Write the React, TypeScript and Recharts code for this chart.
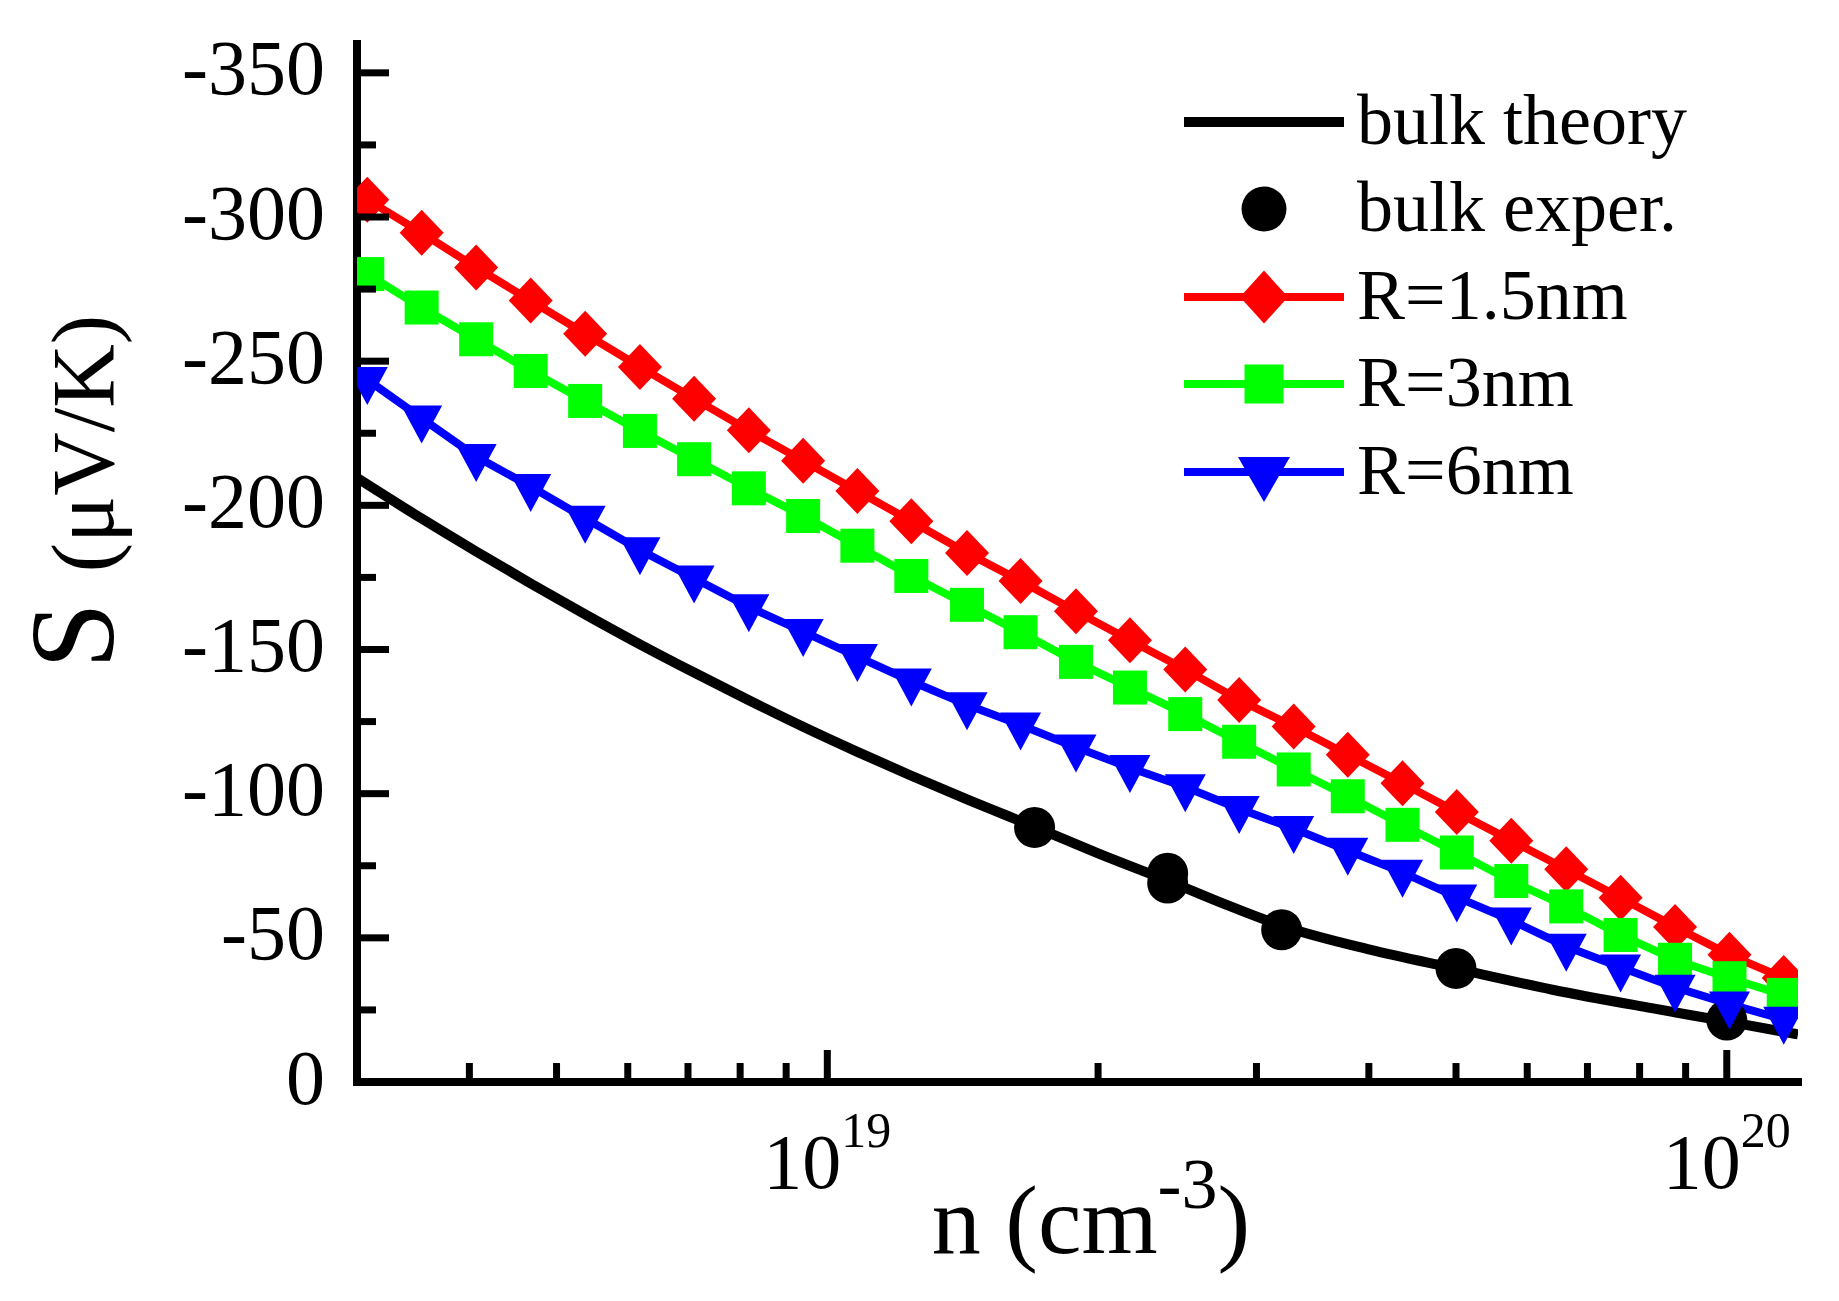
import React from 'react';
import { ComposedChart, Line, XAxis, YAxis, Legend } from 'recharts';

const FONT = "'Liberation Serif', 'Times New Roman', serif";

// carrier concentration grid of the nanowire curves (cm^-3)
const wireN = [
  3.08e18, 3.54e18, 4.07e18, 4.68e18, 5.38e18, 6.19e18, 7.11e18, 8.18e18, 9.4e18,
  1.08e19, 1.24e19, 1.43e19, 1.64e19, 1.89e19, 2.17e19, 2.5e19, 2.87e19, 3.3e19,
  3.79e19, 4.36e19, 5.01e19, 5.76e19, 6.63e19, 7.62e19, 8.76e19, 1.007e20, 1.157e20,
];
// Seebeck coefficient (uV/K)
const wireR15 = [
  -306, -294.5, -282.5, -271, -259.5, -248, -237, -226, -215.5, -205, -194.5, -183.5,
  -173.8, -163.3, -153.2, -143.1, -132.5, -123.3, -113.5, -103.6, -93.6, -83.7, -73.8,
  -63.9, -53.8, -44.1, -36.1,
];
const wireR3 = [
  -280.2, -268.6, -257.6, -246.6, -236.2, -225.8, -216, -205.9, -196.3, -186, -175.5,
  -165.5, -156, -145.7, -136.8, -127.6, -118, -108.4, -99.1, -89.2, -79.6, -69.7, -60.9,
  -51, -42.4, -36, -30.2,
];
const wireR6 = [
  -243.6, -230.2, -216.9, -206.5, -195.5, -184.5, -174.7, -164.8, -156.2, -147.5, -139,
  -130.8, -123.8, -116.1, -109, -102.3, -94.8, -87.9, -80.3, -72.7, -64.1, -56.1, -47,
  -39.8, -32.8, -27, -21.7,
];
const bulkTheoryN = [
  3.0e18, 3.54e18, 4.07e18, 4.68e18, 5.38e18, 6.19e18, 7.11e18, 8.18e18, 9.4e18, 1.08e19,
  1.24e19, 1.43e19, 1.7e19, 2.0e19, 2.4e19, 2.77e19, 3.2e19, 4.0e19, 5.0e19, 6.4e19,
  8.25e19, 1.0e20, 1.2e20,
];
const bulkTheoryS = [
  -209.5, -195.4, -184.0, -172.9, -162.2, -151.8, -142.0, -132.4, -123.2, -114.5, -106.2,
  -98.0, -88.5, -79.3, -69.6, -61.6, -54.2, -46.0, -39.3, -32.0, -25.6, -21.0, -16.5,
];
const bulkExperN = [1.7e19, 2.39e19, 2.39e19, 3.2e19, 5.0e19, 1.0e20];
const bulkExperS = [-88.3, -72.4, -69.0, -52.8, -39.4, -21.5];

const xTicks = [
  4e18, 5e18, 6e18, 7e18, 8e18, 9e18, 1e19, 2e19, 3e19, 4e19, 5e19, 6e19, 7e19, 8e19, 9e19, 1e20,
];
const yTicks = [0, -25, -50, -75, -100, -125, -150, -175, -200, -225, -250, -275, -300, -325, -350];

const legendLabels = ['bulk theory', 'bulk exper.', 'R=1.5nm', 'R=3nm', 'R=6nm'];

const rows = (ns: number[], ss: number[]) => ns.map((n, i) => ({ n, s: ss[i] }));

const RED = '#ff0000';
const GREEN = '#00ff00';
const BLUE = '#0000ff';
const BLACK = '#000000';

const isMajorX = (v: number) => {
  const e = Math.log10(v);
  return Math.abs(e - Math.round(e)) < 1e-9;
};

const TICK_W = 7;
const MAJ = 32;
const MIN = 19;

const BottomTick = (p: any) => {
  const { x, y, payload } = p;
  const v = payload.value;
  const major = isMajorX(v);
  return (
    <g>
      <line x1={x} y1={y} x2={x} y2={y - (major ? MAJ : MIN)} stroke={BLACK} strokeWidth={TICK_W} />
      {major && (
        <text x={x} y={y + 106} textAnchor="middle" fontFamily={FONT} fontSize={78} fill={BLACK}>
          <tspan>10</tspan>
          <tspan dy={-41} fontSize={50}>{String(Math.round(Math.log10(v)))}</tspan>
        </text>
      )}
    </g>
  );
};

const TopTick = (p: any) => {
  const { x, y, payload } = p;
  const major = isMajorX(payload.value);
  return <line x1={x} y1={y} x2={x} y2={y + (major ? MAJ : MIN)} stroke={BLACK} strokeWidth={TICK_W} />;
};

const LeftTick = (p: any) => {
  const { x, y, payload } = p;
  const v = payload.value;
  const major = v % 50 === 0;
  return (
    <g>
      <line x1={x} y1={y} x2={x + (major ? MAJ : MIN)} y2={y} stroke={BLACK} strokeWidth={TICK_W} />
      {major && (
        <text x={x - 32} y={y + 21.5} textAnchor="end" fontFamily={FONT} fontSize={78} fill={BLACK}>
          {String(v)}
        </text>
      )}
    </g>
  );
};

const RightTick = (p: any) => {
  const { x, y, payload } = p;
  const major = payload.value % 50 === 0;
  return <line x1={x} y1={y} x2={x - (major ? MAJ - 3 : MIN)} y2={y} stroke={BLACK} strokeWidth={TICK_W} />;
};

const XTitle = () => (
  <text x={1091} y={1253} textAnchor="middle" fontFamily={FONT} fontSize={98} fill={BLACK}>
    n (cm
    <tspan dy={-45} fontSize={72}>-3</tspan>
    <tspan dy={45}>)</tspan>
  </text>
);

const YTitle = () => (
  <text
    x={113}
    y={492}
    transform="rotate(-90 113 492)"
    textAnchor="middle"
    fontFamily={FONT}
    fill={BLACK}
  >
    <tspan fontSize={120}>S </tspan>
    <tspan fontSize={88}>(μV/K)</tspan>
  </text>
);

const diamondPts = (cx: number, cy: number, w: number, h: number) =>
  `${cx},${cy - h / 2} ${cx + w / 2},${cy} ${cx},${cy + h / 2} ${cx - w / 2},${cy}`;
const triPts = (cx: number, cy: number, w: number, h: number) =>
  `${cx - w / 2},${cy - h / 3} ${cx + w / 2},${cy - h / 3} ${cx},${cy + (2 * h) / 3}`;

const diamondDot = (p: any) =>
  p.cx == null ? <g key={`rd${p.index}`} /> : (
    <polygon key={`rd${p.index}`} points={diamondPts(p.cx, p.cy, 44, 46)} fill={RED} />
  );
const squareDot = (p: any) =>
  p.cx == null ? <g key={`gs${p.index}`} /> : (
    <rect key={`gs${p.index}`} x={p.cx - 17} y={p.cy - 17} width={34} height={34} fill={GREEN} />
  );
const triDot = (p: any) =>
  p.cx == null ? <g key={`bt${p.index}`} /> : (
    <polygon key={`bt${p.index}`} points={triPts(p.cx, p.cy, 41, 38)} fill={BLUE} />
  );
const circleDot = (p: any) =>
  p.cx == null ? <g key={`kc${p.index}`} /> : (
    <circle key={`kc${p.index}`} cx={p.cx} cy={p.cy} r={20.5} fill={BLACK} />
  );

const LegendBox = () => {
  const rowsY = [62, 149, 237, 324, 412];
  const lx1 = 24;
  const lx2 = 184;
  const mx = 104;
  return (
    <svg width={640} height={470} style={{ display: 'block' }}>
      <line x1={lx1} y1={rowsY[0]} x2={lx2} y2={rowsY[0]} stroke={BLACK} strokeWidth={10} />
      <circle cx={mx} cy={rowsY[1]} r={22.5} fill={BLACK} />
      <line x1={lx1} y1={rowsY[2]} x2={lx2} y2={rowsY[2]} stroke={RED} strokeWidth={8} />
      <polygon points={diamondPts(mx, rowsY[2], 48, 53)} fill={RED} />
      <line x1={lx1} y1={rowsY[3]} x2={lx2} y2={rowsY[3]} stroke={GREEN} strokeWidth={8} />
      <rect x={mx - 19.5} y={rowsY[3] - 19.5} width={39} height={39} fill={GREEN} />
      <line x1={lx1} y1={rowsY[4]} x2={lx2} y2={rowsY[4]} stroke={BLUE} strokeWidth={8} />
      <polygon points={triPts(mx, rowsY[4], 52, 45)} fill={BLUE} />
      {legendLabels.map((t, i) => (
        <text key={t} x={197} y={rowsY[i] + 21.5} fontFamily={FONT} fontSize={72} fill={BLACK}>
          {t}
        </text>
      ))}
    </svg>
  );
};

const frame = { stroke: BLACK, strokeWidth: 8, strokeLinecap: 'square' as const };
const X_DOMAIN: [number, number] = [3e18, 1.2e20];
const Y_DOMAIN: [number, number] = [-360, 0];

export default function App() {
  return (
    <div style={{ position: 'absolute', left: 0, top: 0, width: 1839, height: 1301, background: '#fff' }}>
      <ComposedChart width={1839} height={1301} margin={{ top: 44, right: 41, bottom: 119, left: 57 }}>
        <Line
          data={rows(bulkTheoryN, bulkTheoryS)}
          dataKey="s"
          xAxisId="b"
          yAxisId="l"
          type="monotone"
          stroke={BLACK}
          strokeWidth={10}
          dot={false}
          activeDot={false}
          isAnimationActive={false}
        />
        <Line
          data={rows(bulkExperN, bulkExperS)}
          dataKey="s"
          xAxisId="b"
          yAxisId="l"
          stroke="none"
          strokeWidth={0}
          dot={circleDot}
          activeDot={false}
          isAnimationActive={false}
        />
        <Line
          data={rows(wireN, wireR15)}
          dataKey="s"
          xAxisId="b"
          yAxisId="l"
          type="linear"
          stroke={RED}
          strokeWidth={8}
          dot={diamondDot}
          activeDot={false}
          isAnimationActive={false}
        />
        <Line
          data={rows(wireN, wireR3)}
          dataKey="s"
          xAxisId="b"
          yAxisId="l"
          type="linear"
          stroke={GREEN}
          strokeWidth={8}
          dot={squareDot}
          activeDot={false}
          isAnimationActive={false}
        />
        <Line
          data={rows(wireN, wireR6)}
          dataKey="s"
          xAxisId="b"
          yAxisId="l"
          type="linear"
          stroke={BLUE}
          strokeWidth={8}
          dot={triDot}
          activeDot={false}
          isAnimationActive={false}
        />
        <XAxis
          xAxisId="b"
          orientation="bottom"
          height={100}
          type="number"
          scale="log"
          dataKey="n"
          domain={X_DOMAIN}
          allowDataOverflow
          ticks={xTicks}
          interval={0}
          tickLine={false}
          tickSize={0}
          tickMargin={0}
          axisLine={frame}
          tick={BottomTick}
          label={<XTitle />}
        />
        <XAxis
          xAxisId="t"
          orientation="top"
          height={0}
          type="number"
          scale="log"
          dataKey="n"
          domain={X_DOMAIN}
          allowDataOverflow
          ticks={xTicks}
          interval={0}
          tickLine={false}
          tickSize={0}
          tickMargin={0}
          axisLine={frame}
          tick={TopTick}
        />
        <YAxis
          yAxisId="l"
          orientation="left"
          width={300}
          type="number"
          domain={Y_DOMAIN}
          reversed
          allowDataOverflow
          ticks={yTicks}
          interval={0}
          tickLine={false}
          tickSize={0}
          tickMargin={0}
          axisLine={frame}
          tick={LeftTick}
          label={<YTitle />}
        />
        <YAxis
          yAxisId="r"
          orientation="right"
          width={0}
          type="number"
          domain={Y_DOMAIN}
          reversed
          allowDataOverflow
          ticks={yTicks}
          interval={0}
          tickLine={false}
          tickSize={0}
          tickMargin={0}
          axisLine={frame}
          tick={RightTick}
        />
        <Legend
          layout="horizontal"
          verticalAlign="middle"
          align="center"
          content={() => <LegendBox />}
          wrapperStyle={{ position: 'absolute', left: 1160, top: 60, width: 640, height: 470, margin: 0, padding: 0 }}
        />
      </ComposedChart>
    </div>
  );
}
